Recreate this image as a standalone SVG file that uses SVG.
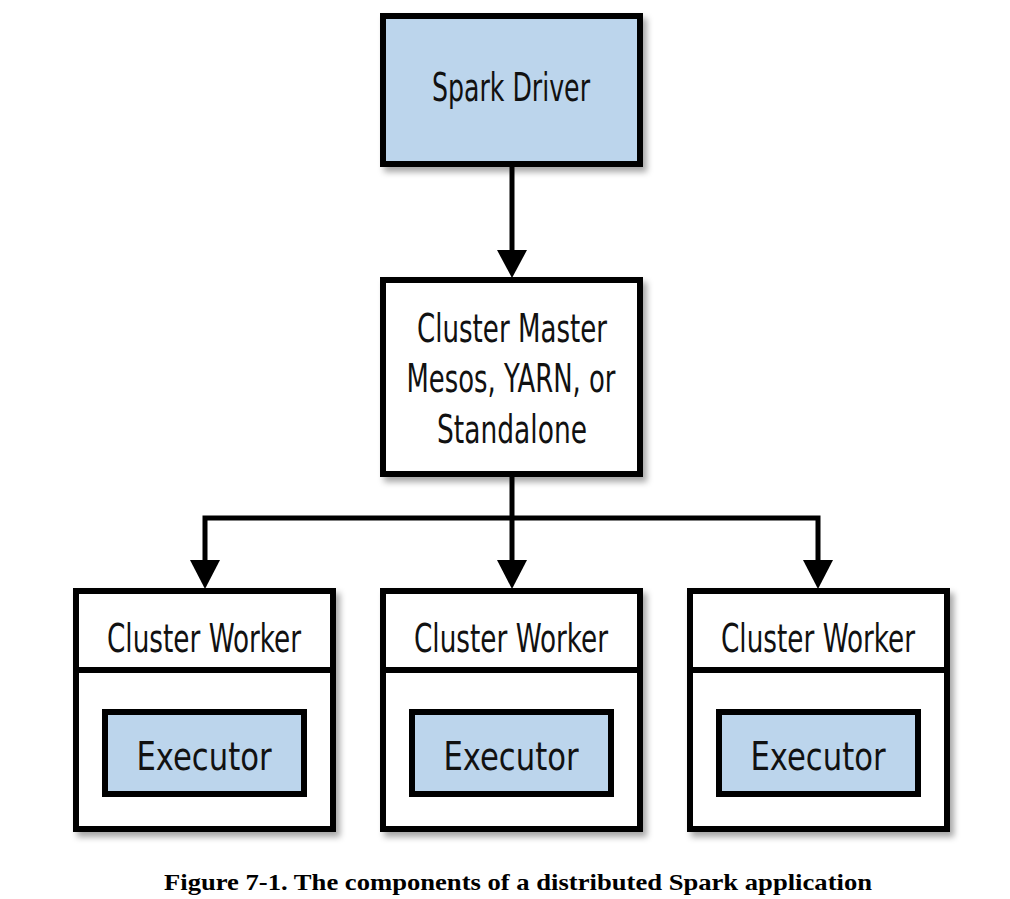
<svg xmlns="http://www.w3.org/2000/svg" width="1010" height="899" viewBox="0 0 1010 899">
  <style>
    .box { stroke: #000; stroke-width: 6; }
    .blue { fill: #bcd5ec; }
    .white { fill: #ffffff; }
    .lbl { font-family: "Liberation Sans Narrow", "DejaVu Sans Condensed", "Liberation Sans", sans-serif; font-size: 39px; fill: #111; text-anchor: middle; }
    .cap { font-family: "Liberation Serif", serif; font-weight: bold; font-size: 24px; fill: #000; text-anchor: middle; }
    .conn { stroke: #000; stroke-width: 5; fill: none; }
    .head { fill: #000; }
  </style>
  <defs>
    <filter id="sh" x="-10%" y="-10%" width="130%" height="130%">
      <feDropShadow dx="4" dy="5" stdDeviation="3" flood-color="#000" flood-opacity="0.35"/>
    </filter>
  </defs>
  <rect width="1010" height="899" fill="#ffffff"/>

  <g id="connectors">
    <line class="conn" x1="512" y1="166" x2="512" y2="252"/>
    <polygon class="head" points="497,250 527,250 512,278"/>
    <line class="conn" x1="512" y1="476" x2="512" y2="562"/>
    <polyline class="conn" points="205,562 205,518 818,518 818,562"/>
    <polygon class="head" points="190,560 220,560 205,589"/>
    <polygon class="head" points="497,560 527,560 512,589"/>
    <polygon class="head" points="803,560 833,560 818,589"/>
  </g>

  <g id="spark-driver">
    <rect class="box blue" x="383" y="16" width="257" height="148" filter="url(#sh)"/>
    <text class="lbl" x="511" y="101" textLength="158" lengthAdjust="spacingAndGlyphs">Spark Driver</text>
  </g>

  <g id="cluster-master">
    <rect class="box white" x="383" y="280" width="257" height="194" filter="url(#sh)"/>
    <text class="lbl" x="512" y="342" textLength="190" lengthAdjust="spacingAndGlyphs">Cluster Master</text>
    <text class="lbl" x="511" y="392" textLength="209" lengthAdjust="spacingAndGlyphs">Mesos, YARN, or</text>
    <text class="lbl" x="512" y="443" textLength="150" lengthAdjust="spacingAndGlyphs">Standalone</text>
  </g>

  <g id="worker-1">
    <rect class="box white" x="76" y="591" width="257" height="238" filter="url(#sh)"/>
    <line class="box" x1="76" y1="670" x2="333" y2="670"/>
    <text class="lbl" x="204" y="652" textLength="194" lengthAdjust="spacingAndGlyphs">Cluster Worker</text>
    <g id="executor-1">
      <rect class="box blue" x="105" y="712" width="199" height="82"/>
      <text class="lbl" x="204" y="770" textLength="135" lengthAdjust="spacingAndGlyphs">Executor</text>
    </g>
  </g>

  <g id="worker-2">
    <rect class="box white" x="383" y="591" width="257" height="238" filter="url(#sh)"/>
    <line class="box" x1="383" y1="670" x2="640" y2="670"/>
    <text class="lbl" x="511" y="652" textLength="194" lengthAdjust="spacingAndGlyphs">Cluster Worker</text>
    <g id="executor-2">
      <rect class="box blue" x="412" y="712" width="199" height="82"/>
      <text class="lbl" x="511" y="770" textLength="135" lengthAdjust="spacingAndGlyphs">Executor</text>
    </g>
  </g>

  <g id="worker-3">
    <rect class="box white" x="690" y="591" width="257" height="238" filter="url(#sh)"/>
    <line class="box" x1="690" y1="670" x2="947" y2="670"/>
    <text class="lbl" x="818" y="652" textLength="194" lengthAdjust="spacingAndGlyphs">Cluster Worker</text>
    <g id="executor-3">
      <rect class="box blue" x="719" y="712" width="199" height="82"/>
      <text class="lbl" x="818" y="770" textLength="135" lengthAdjust="spacingAndGlyphs">Executor</text>
    </g>
  </g>

  <text class="cap" x="518" y="890" textLength="708" lengthAdjust="spacingAndGlyphs">Figure 7-1. The components of a distributed Spark application</text>
</svg>
